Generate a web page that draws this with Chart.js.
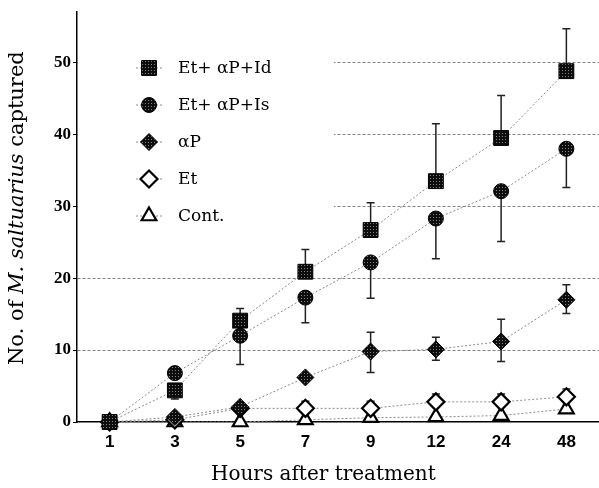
<!DOCTYPE html>
<html>
<head>
<meta charset="utf-8">
<script src="https://cdn.jsdelivr.net/npm/chart.js@4.4.1/dist/chart.umd.min.js"></script>
<style>
  html, body { margin: 0; padding: 0; background: #fff; }
</style>
</head>
<body>
<canvas id="graph" width="599" height="488"></canvas>
<script>
// hours after treatment (category axis)
var hours = ['1', '3', '5', '7', '9', '12', '24', '48'];
var yTicks = [0, 10, 20, 30, 40, 50];
var names = ['Et+ αP+Id', 'Et+ αP+Is', 'αP', 'Et', 'Cont.'];

// mean no. captured
var etApId = [0, 4.4, 14.1, 20.9, 26.7, 33.5, 39.5, 48.8];
var etApIs = [0, 6.8, 12.0, 17.3, 22.2, 28.3, 32.1, 38.0];
var aP     = [0, 0.7, 2.1, 6.2, 9.8, 10.1, 11.2, 17.0];
var et     = [0, 0.3, 1.9, 1.9, 1.9, 2.8, 2.8, 3.5];
var cont   = [0, 0, 0, 0.3, 0.6, 0.7, 0.9, 1.8];

// error bar ends (only the visible side is drawn)
var etApIdHi = [null, null, 15.8, 24.0, 30.5, 41.5, 45.4, 54.7];
var etApIdLo = [null, 3.2, null, null, null, null, null, null];
var etApIsLo = [null, null, 8.0, 13.8, 17.2, 22.7, 25.1, 32.6];
var aPHi     = [null, null, null, null, 12.5, 11.8, 14.3, 19.1];
var aPLo     = [null, null, null, null, 6.9, 8.6, 8.4, 15.1];
var etHi     = [null, null, null, 2.9, 2.9, 3.9, 3.9, 4.6];

var xTitle = 'Hours after treatment';
var yTitle = [{text: 'No. of '}, {text: 'M. saltuarius', italic: true}, {text: ' captured'}];

var kanvas = document.getElementById('graph');

// black marker fill with light dot grid
function dotFill() {
  var tile = document.createElement('canvas');
  tile.width = 3; tile.height = 3;
  var g = tile.getContext('2d');
  g.fillStyle = '#0d0d0d';
  g.fillRect(0, 0, 3, 3);
  g.fillStyle = '#858585';
  g.fillRect(1, 1, 1, 1);
  return kanvas.getContext('2d').createPattern(tile, 'repeat');
}
var fillDark = dotFill();

function series(label, data, style, radius, bg, bw) {
  return {
    label: label,
    data: data,
    pointStyle: style,
    pointRadius: radius,
    pointBackgroundColor: bg,
    pointBorderColor: '#000',
    pointBorderWidth: bw,
    borderColor: '#8a8a8a',
    borderWidth: 1,
    borderDash: [2, 2],
    fill: false,
    tension: 0,
    clip: false
  };
}

var bars = [
  {mean: etApId, hi: etApIdHi, lo: etApIdLo},
  {mean: etApIs, hi: [], lo: etApIsLo},
  {mean: aP, hi: aPHi, lo: aPLo},
  {mean: et, hi: etHi, lo: []}
];

var errorBars = {
  id: 'errorBars',
  beforeDatasetsDraw: function(chart) {
    var ctx = chart.ctx;
    var xs = chart.scales.x, ys = chart.scales.y;
    ctx.save();
    // legend sits on a white patch over the grid
    ctx.fillStyle = '#fff';
    ctx.fillRect(xs.left + 1, 42, 256, 172);
    ctx.strokeStyle = '#222';
    ctx.lineWidth = 1.5;
    bars.forEach(function(b) {
      b.mean.forEach(function(v, i) {
        var px = xs.getPixelForValue(i);
        [b.hi[i], b.lo[i]].forEach(function(end) {
          if (end == null) return;
          var py = ys.getPixelForValue(end);
          ctx.beginPath();
          ctx.moveTo(px, ys.getPixelForValue(v));
          ctx.lineTo(px, py);
          ctx.moveTo(px - 4, py);
          ctx.lineTo(px + 4, py);
          ctx.stroke();
        });
      });
    });
    ctx.restore();
  }
};

var sideLegend = {
  id: 'sideLegend',
  afterDatasetsDraw: function(chart) {
    var ctx = chart.ctx;
    chart.data.datasets.forEach(function(ds, i) {
      var y = 68 + i * 37;
      ctx.save();
      ctx.strokeStyle = '#8a8a8a';
      ctx.lineWidth = 1;
      ctx.setLineDash([2, 2]);
      ctx.beginPath();
      ctx.moveTo(136, y);
      ctx.lineTo(164, y);
      ctx.stroke();
      ctx.setLineDash([]);
      ctx.fillStyle = ds.pointBackgroundColor;
      ctx.strokeStyle = ds.pointBorderColor;
      ctx.lineWidth = ds.pointBorderWidth;
      Chart.helpers.drawPoint(ctx, {
        pointStyle: ds.pointStyle, radius: ds.pointRadius, rotation: 0, borderWidth: ds.pointBorderWidth
      }, 149, y);
      ctx.fillStyle = '#000';
      ctx.font = '17px "DejaVu Serif"';
      ctx.textBaseline = 'middle';
      ctx.fillText(ds.label, 178, y + 1);
      ctx.restore();
    });
  }
};

var axisTitles = {
  id: 'axisTitles',
  afterDraw: function(chart) {
    var ctx = chart.ctx;
    ctx.save();
    ctx.fillStyle = '#000';
    ctx.textBaseline = 'alphabetic';
    ctx.textAlign = 'left';
    ctx.font = '20px "DejaVu Serif"';
    ctx.fillText(xTitle, 211, 480);

    ctx.translate(23, 365);
    ctx.rotate(-Math.PI / 2);
    var x = 0;
    yTitle.forEach(function(part) {
      ctx.font = (part.italic ? 'italic ' : '') + '21px "DejaVu Serif"';
      ctx.fillText(part.text, x, 0);
      x += ctx.measureText(part.text).width;
    });
    ctx.restore();
  }
};

new Chart(kanvas, {
  type: 'line',
  data: {
    labels: hours,
    datasets: [
      series(names[0], etApId, 'rect', 10.5, fillDark, 1),
      series(names[1], etApIs, 'circle', 7.5, fillDark, 1),
      series(names[2], aP, 'rectRot', 8.5, fillDark, 1),
      series(names[3], et, 'rectRot', 8.5, '#fff', 2.2),
      series(names[4], cont, 'triangle', 8.5, '#fff', 2.2)
    ]
  },
  options: {
    responsive: false,
    animation: false,
    devicePixelRatio: 1,
    events: [],
    layout: {autoPadding: false, padding: {top: 10, left: 0, right: 0, bottom: 0}},
    plugins: {legend: {display: false}, tooltip: {enabled: false}},
    scales: {
      x: {
        offset: true,
        grid: {display: false, drawTicks: false},
        border: {display: true, color: '#000', width: 1.5},
        ticks: {
          color: '#000', padding: 10, autoSkip: false, maxRotation: 0,
          font: {family: "'Liberation Sans Narrow', 'Liberation Sans', sans-serif", size: 17, weight: 'bold'}
        },
        afterFit: function(s) {
          s.height = 66;
          s.paddingLeft = 0;
          s.paddingRight = 0;
        }
      },
      y: {
        min: 0,
        max: 57,
        border: {display: true, color: '#000', width: 1.5, dash: [3, 2]},
        grid: {
          color: function(c) { return c.tick && c.tick.value === 0 ? 'rgba(0,0,0,0)' : '#808080'; },
          lineWidth: 1,
          tickLength: 4,
          tickColor: '#000',
          tickBorderDash: []
        },
        ticks: {
          color: '#000', padding: 2,
          font: {family: "'Liberation Serif', serif", size: 17, weight: 'bold'}
        },
        afterBuildTicks: function(s) {
          s.ticks = yTicks.map(function(v) { return {value: v}; });
        },
        afterFit: function(s) { s.width = 77; }
      }
    }
  },
  plugins: [errorBars, sideLegend, axisTitles]
});
</script>
</body>
</html>
